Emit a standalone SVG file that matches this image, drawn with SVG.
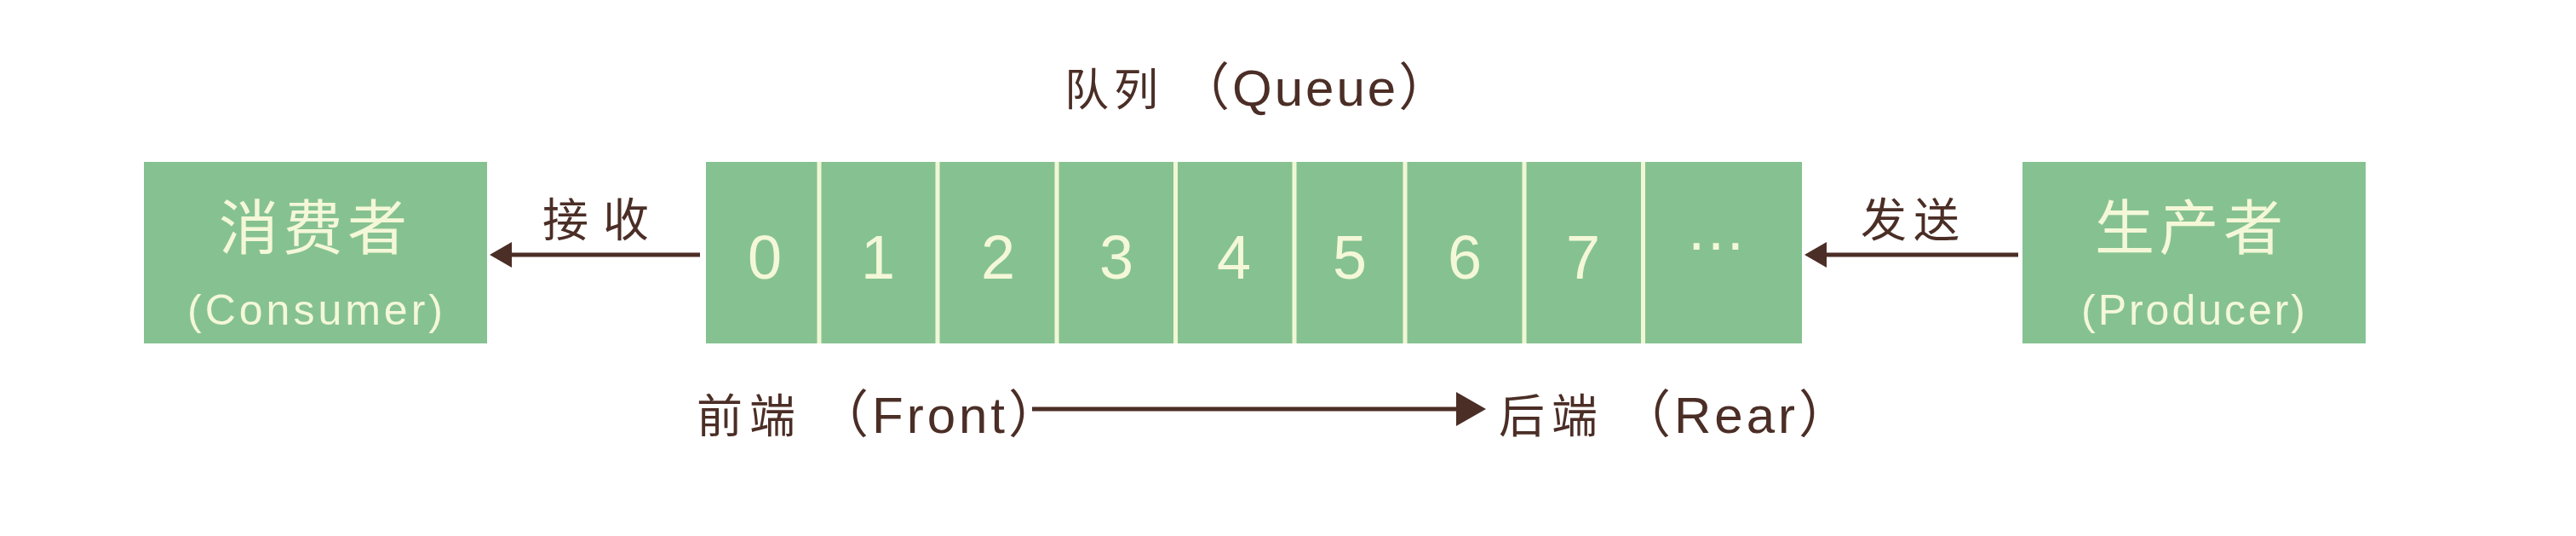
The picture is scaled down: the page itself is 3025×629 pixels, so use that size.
<svg xmlns="http://www.w3.org/2000/svg" width="3025" height="629" viewBox="0 0 3025 629">
  <style>
    .box { fill: #86c291; }
    .div { fill: #f1f7d6; }
    .lt { fill: #f4f8d8; font-family: "Liberation Sans", "Noto Sans CJK SC", sans-serif; }
    .dk { fill: #4b2e26; font-family: "Liberation Sans", "Noto Sans CJK SC", sans-serif; }
    .cjk { font-family: "Noto Sans CJK SC", sans-serif; }
    .digit { font-size: 72px; text-anchor: middle; }
    .line { stroke: #4b2e26; stroke-width: 5; fill: none; }
  </style>
  <defs>
    <marker id="headS" markerUnits="userSpaceOnUse" markerWidth="26" markerHeight="30" refX="0" refY="15" orient="auto">
      <path d="M0,0 L26,15 L0,30 z" fill="#4b2e26"/>
    </marker>
    <marker id="headL" markerUnits="userSpaceOnUse" markerWidth="35" markerHeight="40" refX="0" refY="20" orient="auto">
      <path d="M0,0 L35,20 L0,40 z" fill="#4b2e26"/>
    </marker>
  </defs>
  <rect width="3025" height="629" fill="#ffffff"/>

  <g id="title">
    <text class="dk" x="1250" y="124"><tspan class="cjk" font-size="52" letter-spacing="6">队列</tspan><tspan font-size="60" dx="18" letter-spacing="3">（Queue）</tspan></text>
  </g>

  <g id="consumer">
    <rect class="box" x="169" y="190" width="403" height="213"/>
    <text class="lt cjk" x="257" y="293" font-size="70" textLength="221" lengthAdjust="spacing">消费者</text>
    <text class="lt" x="220" y="381" font-size="50" textLength="300" lengthAdjust="spacing">(Consumer)</text>
  </g>

  <g id="queue">
    <rect class="box" x="829" y="190" width="1287" height="213"/>
    <rect class="div" x="959.5" y="190" width="5" height="213"/>
    <rect class="div" x="1098.5" y="190" width="5" height="213"/>
    <rect class="div" x="1238.5" y="190" width="5" height="213"/>
    <rect class="div" x="1378" y="190" width="5" height="213"/>
    <rect class="div" x="1517.5" y="190" width="5" height="213"/>
    <rect class="div" x="1647.5" y="190" width="5" height="213"/>
    <rect class="div" x="1787.5" y="190" width="5" height="213"/>
    <rect class="div" x="1927" y="190" width="5" height="213"/>
    <text class="lt digit" x="898" y="327">0</text>
    <text class="lt digit" x="1031" y="327">1</text>
    <text class="lt digit" x="1172" y="327">2</text>
    <text class="lt digit" x="1311" y="327">3</text>
    <text class="lt digit" x="1449" y="327">4</text>
    <text class="lt digit" x="1585" y="327">5</text>
    <text class="lt digit" x="1720" y="327">6</text>
    <text class="lt digit" x="1859" y="327">7</text>
    <text class="lt digit" x="2015" y="293">…</text>
  </g>

  <g id="producer">
    <rect class="box" x="2375" y="190" width="403" height="213"/>
    <text class="lt cjk" x="2460" y="293" font-size="70" textLength="221" lengthAdjust="spacing">生产者</text>
    <text class="lt" x="2444" y="381" font-size="50" textLength="263" lengthAdjust="spacing">(Producer)</text>
  </g>

  <g id="label-receive">
    <text class="dk cjk" x="637" y="278" font-size="54" textLength="125" lengthAdjust="spacing">接收</text>
  </g>
  <g id="label-send">
    <text class="dk cjk" x="2185" y="278" font-size="54" textLength="116" lengthAdjust="spacing">发送</text>
  </g>

  <g id="front">
    <text class="dk" x="818" y="508"><tspan class="cjk" font-size="54" letter-spacing="8">前端</tspan><tspan font-size="60" dx="18" letter-spacing="4">（Front）</tspan></text>
  </g>
  <g id="rear">
    <text class="dk" x="1760" y="508"><tspan class="cjk" font-size="54" letter-spacing="8">后端</tspan><tspan font-size="60" dx="18" letter-spacing="4">（Rear）</tspan></text>
  </g>

  <g id="connectors">
    <line class="line" x1="822" y1="299" x2="601" y2="299" marker-end="url(#headS)"/>
    <line class="line" x1="2370" y1="299" x2="2145" y2="299" marker-end="url(#headS)"/>
    <line class="line" x1="1212" y1="480" x2="1710" y2="480" marker-end="url(#headL)"/>
  </g>
</svg>
